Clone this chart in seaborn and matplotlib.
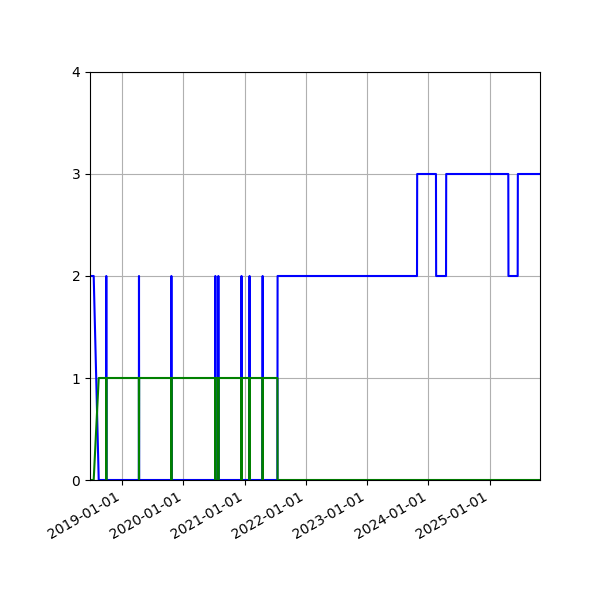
import numpy as np
import pandas as pd
import matplotlib
matplotlib.use("Agg")
import matplotlib.pyplot as plt
import matplotlib.dates as mdates
import seaborn as sns

# dates where blue spikes to 2 and green drops to 0 for one day
spike_dates = ["2018-09-29", "2019-04-12", "2019-10-22", "2020-07-10", "2020-07-28",
               "2020-12-13", "2021-01-30", "2021-04-18"]
start_date = "2018-06-24"
ramp_start = "2018-07-16"
ramp_end = "2018-08-15"
switch_date = "2021-07-16"
# later blue level changes
blue_change_dates = ["2023-10-26", "2024-02-16", "2024-04-16", "2025-04-22", "2025-06-17"]
blue_change_vals = [3, 2, 3, 2, 3]
end_date = "2025-10-27"

day = pd.Timedelta(days=1)
b_x, b_y, g_x, g_y = [], [], [], []

def add(d, b, g):
    b_x.append(pd.Timestamp(d)); b_y.append(b)
    g_x.append(pd.Timestamp(d)); g_y.append(g)

add(start_date, 2, 0)
add(ramp_start, 2, 0)
add(ramp_end, 0, 1)
for s in spike_dates:
    t = pd.Timestamp(s)
    add(t - day, 0, 1)
    add(t, 2, 0)
    add(t + day, 0, 1)
t = pd.Timestamp(switch_date)
add(t - day, 0, 1)
add(t, 2, 0)
level = 2
for d, v in zip(blue_change_dates, blue_change_vals):
    t = pd.Timestamp(d)
    add(t - day, level, 0)
    add(t, v, 0)
    level = v
add(end_date, level, 0)

blue = pd.DataFrame({"date": b_x, "value": b_y})
green = pd.DataFrame({"date": g_x, "value": g_y})

fig = plt.figure(figsize=(6, 6), dpi=100)
ax = fig.add_axes([0.15, 0.2, 0.75, 0.68])
sns.lineplot(data=blue, x="date", y="value", color="blue", linewidth=1.5, ax=ax, estimator=None, sort=False)
sns.lineplot(data=green, x="date", y="value", color="green", linewidth=1.5, ax=ax, estimator=None, sort=False)
ax.set_xlim(pd.Timestamp(start_date), pd.Timestamp(end_date))
ax.set_ylim(0, 4)
ax.set_yticks([0, 1, 2, 3, 4])
ax.xaxis.set_major_locator(mdates.YearLocator())
ax.xaxis.set_major_formatter(mdates.DateFormatter("%Y-%m-%d"))
ax.set_xlabel("")
ax.set_ylabel("")
ax.grid(True)
for lab in ax.get_xticklabels():
    lab.set_rotation(30)
    lab.set_ha("right")
fig.savefig("out.png", dpi=100)
plt.close()
